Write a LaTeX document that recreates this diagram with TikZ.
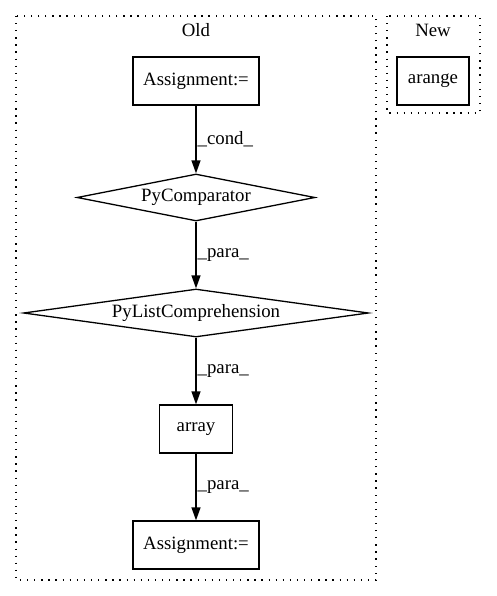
\documentclass[tikz,border=0pt]{standalone}
\usepackage{fontspec}
\setmainfont{Liberation Serif}
\usetikzlibrary{shapes.geometric,arrows.meta}
\begin{document}
\begin{tikzpicture}[x=1pt,y=-1pt,
  every node/.style={font=\fontsize{18.8pt}{20pt}\selectfont},
  box/.style={draw,line width=1.3pt,rectangle,inner sep=0pt},
  dia/.style={draw,line width=1.3pt,diamond,aspect=7,inner sep=0pt},
  cluster/.style={draw,line width=1.3pt,dash pattern=on 1.3pt off 5.8pt},
  edge/.style={line width=1.3pt,-{Triangle[length=13pt,width=9pt]}},
  lbl/.style={right,inner sep=1pt}]
\useasboundingbox (0,0) rectangle (496,596);
\draw[cluster] (16,16) rectangle (376,580);
\draw[cluster] (387,16) rectangle (480,113);
\node (oldlbl) at (196,30) {Old};
\node (newlbl) at (433,30) {New};
\node[box,minimum width=126pt,minimum height=48pt] (a1) at (196,81) {Assignment:=};
\node[box,minimum width=72pt,minimum height=48pt] (ar) at (433,81) {arange};
\node[dia,minimum width=238pt,minimum height=47pt] (pc) at (196,197.5) {PyComparator};
\node[dia,minimum width=345pt,minimum height=48pt] (pl) at (196,313) {PyListComprehension};
\node[box,minimum width=73pt,minimum height=48pt] (arr) at (196,429) {array};
\node[box,minimum width=126pt,minimum height=48pt] (a2) at (196,545) {Assignment:=};
\draw[edge] (a1) -- node[lbl] {\_cond\_} (pc);
\draw[edge] (pc) -- node[lbl] {\_para\_} (pl);
\draw[edge] (pl) -- node[lbl] {\_para\_} (arr);
\draw[edge] (arr) -- node[lbl] {\_para\_} (a2);
\end{tikzpicture}
\end{document}
